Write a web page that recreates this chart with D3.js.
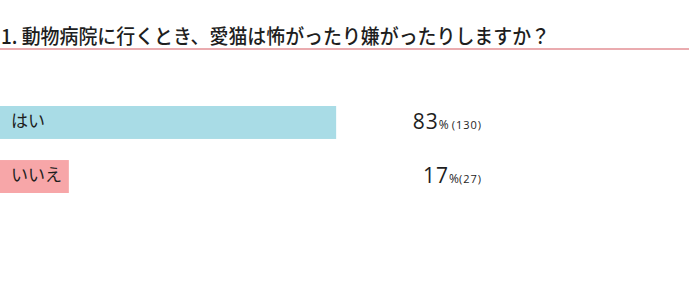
<!DOCTYPE html>
<html>
<head>
  <meta charset="utf-8">
  <script src="https://d3js.org/d3.v7.min.js"></script>
  <style>
    body { margin: 0; background: #fff; }
    text { font-family: "Noto Sans CJK JP", "Noto Sans", sans-serif; }
    .val { font-family: "Open Sans", "Noto Sans", sans-serif; }
  </style>
</head>
<body>
  <svg width="700" height="299"></svg>
  <script>
    const title = "1. 動物病院に行くとき、愛猫は怖がったり嫌がったりしますか？";
    const categories = ["はい", "いいえ"];
    const percents = [83, 17];
    const counts = [130, 27];
    const colors = ["#a9dce6", "#f7a6a8"];

    const svg = d3.select("svg");

    // title + underline
    const t = svg.append("text")
      .attr("x", 1)
      .attr("y", 44)
      .style("font-size", "20px")
      .style("font-weight", 500)
      .style("fill", "#1e1e1e")
      .text(title);
    const tl = t.node().getComputedTextLength();
    if (Math.abs(tl - 549) > 4) t.attr("textLength", 549).attr("lengthAdjust", "spacingAndGlyphs");

    svg.append("line")
      .attr("x1", 0).attr("x2", 689)
      .attr("y1", 49).attr("y2", 49)
      .attr("stroke", "#e38f94")
      .attr("stroke-width", 1.5);

    // scales
    const x = d3.scaleLinear().domain([0, 100]).range([0, 405]);
    const y = d3.scaleBand().domain(categories).range([106, 193]).paddingInner(0.39);

    const data = categories.map((c, i) => ({ cat: c, pct: percents[i], n: counts[i], color: colors[i] }));

    svg.selectAll(".bar")
      .data(data)
      .enter()
      .append("rect")
      .attr("class", "bar")
      .attr("x", 0)
      .attr("y", d => y(d.cat))
      .attr("width", d => x(d.pct))
      .attr("height", y.bandwidth())
      .attr("fill", d => d.color);

    svg.selectAll(".cat")
      .data(data)
      .enter()
      .append("text")
      .attr("class", "cat")
      .attr("x", 11)
      .attr("y", d => y(d.cat) + 20.5)
      .style("font-size", "17px")
      .style("fill", "#1e1e1e")
      .text(d => d.cat);

    // values, right-aligned
    const val = svg.selectAll(".val")
      .data(data)
      .enter()
      .append("text")
      .attr("class", "val")
      .attr("x", 482)
      .attr("y", d => y(d.cat) + 23)
      .attr("text-anchor", "end")
      .style("fill", "#1e1e1e");
    val.append("tspan").style("font-size", "21px").style("font-weight", 500)
      .style("letter-spacing", "1px").text(d => d.pct);
    val.append("tspan").style("font-size", "12px").text("%");
    val.append("tspan").style("font-size", "11px").style("letter-spacing", "1px")
      .attr("dx", d => d.n > 99 ? 3 : 0).text(d => "(" + d.n + ")");
  </script>
</body>
</html>
